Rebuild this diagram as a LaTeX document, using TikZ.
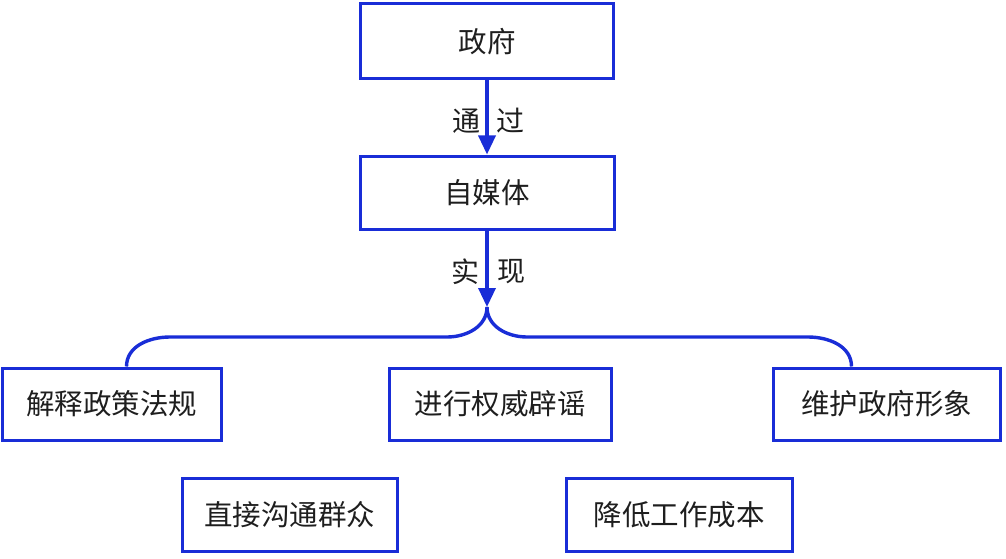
\documentclass[tikz,border=0pt]{standalone}
\usepackage{fontspec}
\setmainfont{Noto Sans CJK SC}
\usetikzlibrary{arrows.meta}
\definecolor{lineblue}{RGB}{25,45,215}
\definecolor{txt}{RGB}{30,30,30}
\begin{document}
\begin{tikzpicture}[x=1pt,y=-1pt,
  box/.style={draw=lineblue,line width=3pt,rectangle,inner sep=0pt,
    font=\fontsize{28.5}{30}\selectfont,text=txt},
  conn/.style={draw=lineblue,line width=3.4pt},
  lbl/.style={font=\fontsize{28}{30}\selectfont,text=txt,inner sep=0pt},
  tip/.style={-{Triangle[length=19pt,width=17pt]}}]
\useasboundingbox (0,0) rectangle (1006,559);
\node[box,minimum width=253,minimum height=75] (gov) at (487,41.5) {政府};
\node[box,minimum width=254,minimum height=73] (media) at (487,192.5) {自媒体};
\node[box,minimum width=219,minimum height=72] (b1) at (111.5,404) {解释政策法规};
\node[box,minimum width=222,minimum height=72] (b2) at (500,404) {进行权威辟谣};
\node[box,minimum width=227,minimum height=72] (b3) at (886.5,404) {维护政府形象};
\node[box,minimum width=215,minimum height=73] (b4) at (289.5,514.5) {直接沟通群众};
\node[box,minimum width=226,minimum height=73] (b5) at (679,514.5) {降低工作成本};
\coordinate (split) at (487,307);
\draw[conn,tip] (gov.south) -- (media.north);
\draw[conn,tip] (media.south) -- (split);
\node[lbl] (l1) at (466,121) {通};
\node[lbl] (l2) at (510,121) {过};
\node[lbl] (l3) at (465,272) {实};
\node[lbl] (l4) at (511,272) {现};
\draw[conn] (split) to[out=-90,in=0] (447,337) -- (170,337)
  to[out=180,in=90] ([xshift=15]b1.north);
\draw[conn] (split) to[out=-90,in=180] (527,337) -- (808,337)
  to[out=0,in=90] ([xshift=-35]b3.north);
\end{tikzpicture}
\end{document}
